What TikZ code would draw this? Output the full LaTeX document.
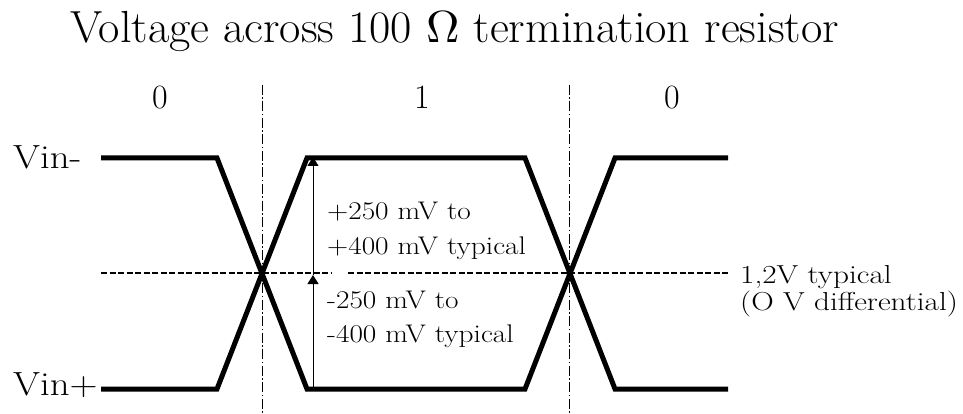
\documentclass[tikz,border=0pt]{standalone}
\usepackage{graphicx}
\usetikzlibrary{arrows.meta}
\begin{document}
\begin{tikzpicture}[x=1pt,y=-1pt,
  sig/.style={line width=5pt,line join=miter,line cap=butt},
  mid/.style={line width=1.8pt,dash pattern=on 6pt off 2.5pt},
  divider/.style={line width=0.9pt,dash pattern=on 10pt off 2.5pt on 1.5pt off 2.5pt},
  dim/.style={line width=1pt},
  tip/.style={-{Triangle[length=9pt,width=11pt]}},
  lbl/.style={inner sep=0pt,anchor=base west,font=\fontsize{25.5}{30}\selectfont},
  rlbl/.style={inner sep=0pt,anchor=base west,font=\fontsize{26}{30}\selectfont},
  big/.style={inner sep=0pt,font=\fontsize{34}{38}\selectfont}]
\useasboundingbox (0,0) rectangle (963,414);
% title
\node[inner sep=0pt,anchor=base west,font=\fontsize{45}{50}\selectfont] (title) at (70,43) {\scalebox{1.03}[1]{Voltage across 100 \scalebox{4.5}{\fontsize{10}{12}\selectfont$\Omega$} termination resistor}};
% bit labels
\node[big,anchor=base] (b0) at (160,109) {0};
\node[big,anchor=base] (b1) at (422,109) {1};
\node[big,anchor=base] (b2) at (672,109) {0};
% signal names
\node[big,anchor=base west,font=\fontsize{33.5}{38}\selectfont] (vm) at (13,168) {\scalebox{1.16}[1]{Vin-}};
\node[big,anchor=base west,font=\fontsize{33.5}{38}\selectfont] (vp) at (13,395) {\scalebox{1.16}[1]{Vin+}};
% coordinates
\coordinate (a0) at (101,158);
\coordinate (a1) at (217,158);
\coordinate (a2) at (307,389);
\coordinate (a3) at (525,389);
\coordinate (a4) at (615,158);
\coordinate (a5) at (728,158);
\coordinate (c0) at (101,389);
\coordinate (c1) at (217,389);
\coordinate (c2) at (307,158);
\coordinate (c3) at (525,158);
\coordinate (c4) at (615,389);
\coordinate (c5) at (728,389);
% dividers
\coordinate (d1t) at (262,85);
\coordinate (d1b) at (262,414);
\coordinate (d2t) at (569,85);
\coordinate (d2b) at (569,414);
\draw[divider] (d1t) -- (d1b);
\draw[divider] (d2t) -- (d2b);
% mid dashed line
\coordinate (m0) at (101,273);
\coordinate (m1) at (331,273);
\coordinate (m2) at (348,273);
\coordinate (m3) at (728,273);
\draw[mid] (m0) -- (m1);
\draw[mid] (m2) -- (m3);
% signals
\draw[sig] (a0) -- (a1) -- (a2) -- (a3) -- (a4) -- (a5);
\draw[sig] (c0) -- (c1) -- (c2) -- (c3) -- (c4) -- (c5);
% dimension arrow
\coordinate (r0) at (313,389);
\coordinate (r1) at (313,275);
\coordinate (r2) at (313,157);
\draw[dim,tip] (r0) -- (r1);
\draw[dim,tip] (r1) -- (r2);
% labels
\node[lbl] (l1) at (327,219) {\scalebox{1.15}[1]{+250 mV to}};
\node[lbl] (l2) at (327,254) {\scalebox{1.15}[1]{+400 mV typical}};
\node[lbl] (l3) at (327,308) {\scalebox{1.15}[1]{-250 mV to}};
\node[lbl] (l4) at (327,342) {\scalebox{1.15}[1]{-400 mV typical}};
\node[rlbl] (l5) at (740,283) {\scalebox{1.2}[1]{1,2V typical}};
\node[rlbl] (l6) at (740,310) {\scalebox{1.2}[1]{(O V differential)}};
\end{tikzpicture}
\end{document}
